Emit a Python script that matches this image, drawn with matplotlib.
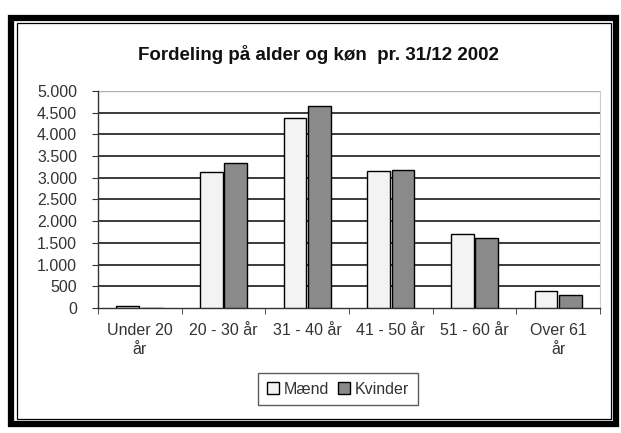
import matplotlib
matplotlib.use("Agg")
import matplotlib.pyplot as plt
from matplotlib.patches import Rectangle
import numpy as np

categories = ["Under 20\når", "20 - 30 år", "31 - 40 år", "41 - 50 år", "51 - 60 år", "Over 61\når"]
maend = [40, 3140, 4380, 3150, 1700, 400]
kvinder = [0, 3340, 4660, 3190, 1620, 310]
yticks = [0, 500, 1000, 1500, 2000, 2500, 3000, 3500, 4000, 4500, 5000]
ytick_labels = ["0", "500", "1.000", "1.500", "2.000", "2.500", "3.000", "3.500", "4.000", "4.500", "5.000"]
title = "Fordeling på alder og køn  pr. 31/12 2002"
series_names = ["Mænd", "Kvinder"]

plt.rcParams['font.family'] = ['Liberation Sans', 'DejaVu Sans']

W, H = 621, 433
fig = plt.figure(figsize=(W / 100, H / 100), dpi=100)
fig.patch.set_facecolor("white")

def fx(px):
    return px / W

def fy(py):
    return 1 - py / H

# outer frame
fig.patches.append(Rectangle((fx(11), fy(424)), fx(605), (424 - 18) / H, transform=fig.transFigure,
                             fill=False, edgecolor="black", linewidth=4.5))
fig.patches.append(Rectangle((fx(17), fy(419)), fx(594), (419 - 23) / H, transform=fig.transFigure,
                             fill=False, edgecolor="black", linewidth=0.9))

ax = fig.add_axes([fx(98), fy(308), fx(502), (308 - 91) / H])
ax.set_facecolor("white")

x = np.arange(len(categories))
bw = 0.27
ax.bar(x - bw / 2 - 0.01, maend, bw, color="#f3f3f3", edgecolor="black", linewidth=1.0, zorder=3, label=series_names[0])
ax.bar(x + bw / 2 + 0.01, kvinder, bw, color="#8a8a8a", edgecolor="black", linewidth=1.0, zorder=3, label=series_names[1])

ax.set_xlim(-0.5, len(categories) - 0.5)
ax.set_ylim(0, 5000)
ax.set_yticks(yticks)
ax.set_yticklabels(ytick_labels)
for t in yticks[1:-1]:
    ax.axhline(t, color="#1a1a1a", linewidth=1.2, zorder=1)
ax.axhline(5000, color="#b0b0b0", linewidth=1.0, zorder=1)

ax.set_xticks(x)
ax.set_xticklabels(categories, linespacing=1.35)
ax.set_xticks(np.arange(-0.5, len(categories)), minor=True)
ax.tick_params(axis="x", which="major", length=0, pad=11, labelsize=11.5, colors="#333333")
ax.tick_params(axis="x", which="minor", length=4, direction="out", color="#333333")
ax.tick_params(axis="y", length=4, direction="out", labelsize=11.5, colors="#333333", pad=11)

for s in ["top"]:
    ax.spines[s].set_visible(False)
ax.spines["left"].set_color("#333333")
ax.spines["bottom"].set_color("#333333")
ax.spines["left"].set_linewidth(1.0)
ax.spines["bottom"].set_linewidth(1.0)
ax.spines["right"].set_color("#cccccc")

fig.text(fx(318), fy(55), title, ha="center", va="center", fontsize=13.5, fontweight="bold", color="#111111")

leg = fig.legend(loc="center", bbox_to_anchor=(fx(338), fy(389)), ncol=2, frameon=True, fancybox=False,
                 fontsize=11.5, handlelength=0.75, handleheight=0.75, handletextpad=0.3, columnspacing=0.6,
                 borderpad=0.55, edgecolor="#333333")
leg.get_frame().set_linewidth(1.0)
for t in leg.get_texts():
    t.set_color("#333333")

fig.savefig("out.png", dpi=100, facecolor="white")
